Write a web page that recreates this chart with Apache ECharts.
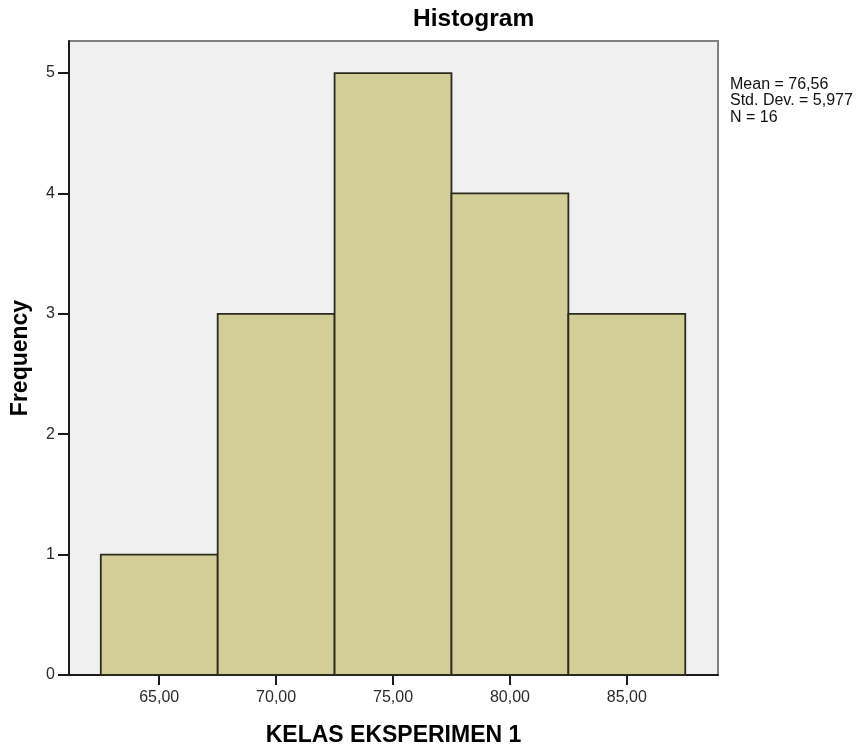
<!DOCTYPE html>
<html>
<head>
<meta charset="utf-8">
<script src="https://cdn.jsdelivr.net/npm/echarts@6/dist/echarts.min.js"></script>
<style>
html,body{margin:0;padding:0;background:#fff;}
#chart{width:864px;height:747px;}
</style>
</head>
<body>
<div id="chart"></div>
<script>
const binStarts = [62.5, 67.5, 72.5, 77.5, 82.5];
const binEnds = [67.5, 72.5, 77.5, 82.5, 87.5];
const frequencies = [1, 3, 5, 4, 3];
const xTickValues = [65, 70, 75, 80, 85];
const yTickValues = [0, 1, 2, 3, 4, 5];
const statsLines = ['Mean = 76,56', 'Std. Dev. = 5,977', 'N = 16'];
const chartTitle = 'Histogram';
const xAxisTitle = 'KELAS EKSPERIMEN 1';
const yAxisTitle = 'Frequency';

const histData = binStarts.map((s, i) => [s, binEnds[i], frequencies[i]]);
const FONT = 'Arial, "Liberation Sans", Helvetica, sans-serif';

const chart = echarts.init(document.getElementById('chart'));
chart.setOption({
  animation: false,
  backgroundColor: '#ffffff',
  grid: {
    left: 69, right: 146, top: 41, bottom: 72,
    outerBoundsMode: 'none', containLabel: false,
    show: true, backgroundColor: '#f0f0f0', borderColor: '#808080', borderWidth: 2
  },
  graphic: [
    {type: 'text', left: 413, top: 7,
     style: {text: chartTitle, font: 'bold 24.5px ' + FONT, fill: '#000'}},
    {type: 'text', left: 730, top: 76,
     style: {text: statsLines.join('\n'), font: '16px ' + FONT, lineHeight: 16.5, fill: '#111'}}
  ],
  xAxis: {
    type: 'value', min: 61.14, max: 88.9,
    name: xAxisTitle, nameLocation: 'middle', nameGap: 49,
    nameTextStyle: {fontFamily: FONT, fontSize: 23, fontWeight: 'bold', color: '#000'},
    axisLine: {show: true, lineStyle: {color: '#1a1a1a', width: 2}},
    axisTick: {show: true, length: 10, customValues: xTickValues, lineStyle: {color: '#1a1a1a', width: 2}},
    axisLabel: {customValues: xTickValues, margin: 15, fontFamily: FONT, fontSize: 16, color: '#2a2a2a',
      formatter: v => v.toFixed(2).replace('.', ',')},
    splitLine: {show: false}
  },
  yAxis: {
    type: 'value', min: 0, max: 5.266,
    name: yAxisTitle, nameLocation: 'middle', nameGap: 37, nameRotate: 90,
    nameTextStyle: {fontFamily: FONT, fontSize: 23, fontWeight: 'bold', color: '#000'},
    axisLine: {show: true, lineStyle: {color: '#1a1a1a', width: 2}},
    axisTick: {show: true, length: 11, customValues: yTickValues, lineStyle: {color: '#1a1a1a', width: 2}},
    axisLabel: {customValues: yTickValues, margin: 14, fontFamily: FONT, fontSize: 16, color: '#2a2a2a'},
    splitLine: {show: false}
  },
  series: [{
    type: 'custom',
    data: histData,
    encode: {x: [0, 1], y: 2},
    renderItem: function (params, api) {
      const p0 = api.coord([api.value(0), api.value(2)]);
      const p1 = api.coord([api.value(1), 0]);
      return {
        type: 'rect',
        shape: {x: p0[0], y: p0[1], width: p1[0] - p0[0], height: p1[1] - p0[1]},
        style: {fill: '#d3ce97', stroke: '#2a2a1e', lineWidth: 1.8}
      };
    }
  }]
});
</script>
</body>
</html>
